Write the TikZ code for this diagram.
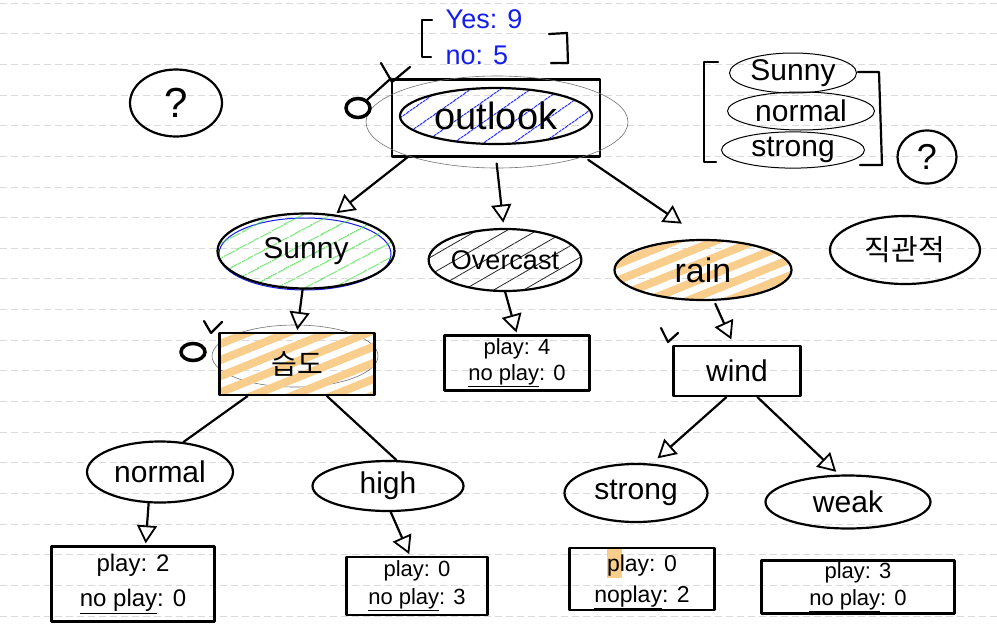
\documentclass[tikz,border=0pt]{standalone}
\usepackage{fontspec}
\setmainfont{Liberation Sans}
\newfontfamily\krfont{Noto Sans CJK KR}
\usetikzlibrary{shapes.geometric,arrows.meta,patterns.meta}
\definecolor{penblue}{RGB}{20,30,235}
\definecolor{pengreen}{RGB}{40,215,40}
\definecolor{hilite}{RGB}{249,205,140}
\definecolor{ruleline}{RGB}{218,218,218}
\newcommand{\hlp}{\makebox[0pt][l]{\textcolor{hilite}{\rule[-0.3em]{0.65em}{1.25em}}}}
\begin{document}
\begin{tikzpicture}[x=1pt,y=-1pt,
  ink/.style={draw=black,line width=2.2pt,line cap=round,line join=round},
  faint/.style={draw=black!55,line width=0.6pt},
  oval/.style={ellipse,ink,inner sep=0pt,font=\fontsize{30}{34}\selectfont},
  boxx/.style={rectangle,ink,inner sep=2pt,font=\fontsize{30}{34}\selectfont},
  leaf/.style={rectangle,ink,align=center,inner sep=1pt,font=\fontsize{23}{31}\selectfont},
  arr/.style={ink,-{Triangle[open,length=18pt,width=20pt,line width=1.8pt]}},
  conn/.style={ink},
  bluehatch/.style={pattern={Lines[angle=35,distance=17pt,line width=1pt]},pattern color=penblue},
  greenhatch/.style={pattern={Lines[angle=28,distance=13pt,line width=1pt]},pattern color=pengreen},
  grayhatch/.style={pattern={Lines[angle=30,distance=15pt,line width=0.8pt]},pattern color=black!85},
  orangehatch/.style={pattern={Lines[angle=22,distance=15pt,line width=8pt]},pattern color=hilite},
  qmark/.style={ellipse,ink,inner sep=0pt,font=\fontsize{42}{44}\selectfont},
  grp/.style={ellipse,draw=black,line width=1pt,inner sep=0pt,font=\fontsize{30}{34}\selectfont}
]
\useasboundingbox (0,0) rectangle (997,627);
\fill[white] (0,0) rectangle (997,627);
% ruled paper
\foreach \k in {0,...,20}{
  \draw[ruleline,line width=0.8pt,dash pattern=on 7pt off 4pt] (0,{3+30.65*\k}) -- (997,{3+30.65*\k});
}

% ---- root: outlook ----
\node[boxx,minimum width=208pt,minimum height=77pt] (outbox) at (496,118) {};
\node[faint,ellipse,minimum width=262pt,minimum height=92pt] (outglow) at (497,122) {};
\node[oval,bluehatch,minimum width=192pt,minimum height=56pt,font=\fontsize{38}{40}\selectfont] (outlook) at (496,116) {outlook};
\node[ellipse,draw=black,line width=3.5pt,minimum width=24pt,minimum height=19pt,inner sep=0pt] (rootdot) at (358,108) {};
\draw[conn] (rootdot) -- (outbox.north west);
\draw[ink] (381,63) -- (392,82) -- (410,67);

% yes / no bracket
\node[text=penblue,align=left,font=\fontsize{27}{36}\selectfont] (yesno) at (484,37) {Yes: 9\\no: 5};
\draw[ink] (432,20) -- (422,20) -- (422,57) -- (431,57);
\draw[ink] (549,34) -- (567,33) -- (568,63) -- (551,63);

% ---- question marks ----
\node[qmark,minimum width=92pt,minimum height=67pt] (qleft) at (176,103) {?};
\node[qmark,minimum width=59pt,minimum height=53pt,font=\fontsize{36}{38}\selectfont] (qright) at (927,157) {?};

% ---- top right group ----
\draw[ink] (718,62) -- (704,62) -- (704,162) -- (716,162);
\draw[ink] (858,72) -- (879,72) -- (882,165) -- (860,165);
\node[grp,minimum width=127pt,minimum height=40pt] (gsunny) at (793,73) {Sunny};
\node[grp,minimum width=147pt,minimum height=38pt] (gnormal) at (801,111) {normal};
\node[grp,minimum width=143pt,minimum height=36pt] (gstrong) at (793,150) {strong};

% ---- korean ----
\node[oval,minimum width=150pt,minimum height=68pt,font=\krfont\fontsize{29}{32}\selectfont] (intuit) at (905,250) {직관적};

% ---- level 1 ----
\node[ellipse,draw=penblue,line width=1pt,minimum width=172pt,minimum height=72pt] (sunnyblue) at (305,254) {};
\node[oval,greenhatch,minimum width=177pt,minimum height=75pt] (sunny) at (306,251) {Sunny};
\node[oval,grayhatch,minimum width=150pt,minimum height=62pt,font=\fontsize{27}{30}\selectfont] (overcast) at (505,260) {Overcast};
\node[oval,orangehatch,minimum width=177pt,minimum height=60pt,font=\fontsize{34}{36}\selectfont] (rain) at (703,270) {rain};

\draw[arr,shorten >=3pt] (outbox.-156) -- (sunny.52);
\draw[arr,shorten <=6pt,shorten >=6pt] (outbox.-90) -- (overcast.92);
\draw[arr,shorten <=4pt,shorten >=22pt] (outbox.-24) -- (rain.95);

% ---- level 2 ----
\node[ellipse,faint,minimum width=166pt,minimum height=62pt] (humglow) at (295,356) {};
\node[boxx,orangehatch,minimum width=155pt,minimum height=62pt,font=\krfont\fontsize{28}{30}\selectfont] (hum) at (297,364) {습도};
\node[ellipse,draw=black,line width=3.5pt,minimum width=24pt,minimum height=17pt,inner sep=0pt] (humdot) at (193,352) {};
\draw[ink] (204,321) -- (211,333) -- (222,322);

\node[leaf,minimum width=145pt,minimum height=55pt,font=\fontsize{22}{26}\selectfont] (ovleaf) at (517,363) {play: 4\\\underline{no play}: 0};

\node[boxx,minimum width=127pt,minimum height=50pt] (wind) at (737,371) {wind};
\draw[ink] (661,328) -- (668,342) -- (678,333);

\draw[arr,shorten >=2pt] (sunny.-95) -- (hum.north);
\draw[arr,shorten >=2pt] (overcast.south) -- (ovleaf.north);
\draw[arr,shorten >=6pt] (rain.-70) -- (wind.97);

% ---- level 3 ----
\node[oval,minimum width=146pt,minimum height=61pt] (normal) at (160,472) {normal};
\node[oval,minimum width=151pt,minimum height=50pt] (high) at (388,486) {high};
\node[oval,minimum width=143pt,minimum height=58pt] (strong) at (636,493) {strong};
\node[oval,minimum width=165pt,minimum height=53pt] (weak) at (848,502) {weak};

\draw[conn] (hum.-147) -- (normal.52);
\draw[conn] (hum.-47) -- (high.72);
\draw[arr,shorten >=8pt] (wind.-112) -- (strong.62);
\draw[arr,shorten >=4pt] (wind.-52) -- (weak.108);

% ---- leaves ----
\node[leaf,minimum width=163pt,minimum height=75pt,font=\fontsize{24}{35}\selectfont] (leafn) at (133,584) {play: 2\\\underline{no play}: 0};
\node[leaf,minimum width=141pt,minimum height=58pt,font=\fontsize{22}{28}\selectfont] (leafh) at (417,586) {play: 0\\\underline{no play}: 3};
\node[leaf,minimum width=145pt,minimum height=62pt] (leafs) at (642,579) {\hlp play: 0\\\underline{noplay}: 2};
\node[leaf,minimum width=193pt,minimum height=53pt,font=\fontsize{22}{27}\selectfont] (leafw) at (858,587) {play: 3\\\underline{no play}: 0};

\draw[arr,shorten >=2pt] (normal.-110) -- (leafn.72);
\draw[arr,shorten >=2pt] (high.-84) -- (leafh.103);
\end{tikzpicture}
\end{document}
